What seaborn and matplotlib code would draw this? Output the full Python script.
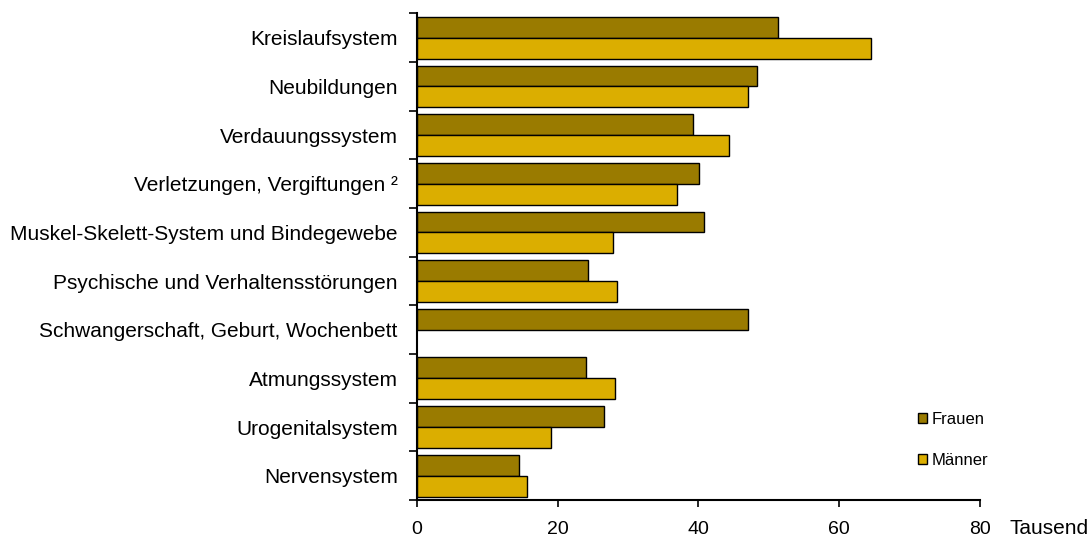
import matplotlib
matplotlib.use("Agg")
import matplotlib.pyplot as plt
from matplotlib.patches import Patch
import numpy as np
import pandas as pd
import seaborn as sns

categories = [
    "Kreislaufsystem",
    "Neubildungen",
    "Verdauungssystem",
    "Verletzungen, Vergiftungen ²",
    "Muskel-Skelett-System und Bindegewebe",
    "Psychische und Verhaltensstörungen",
    "Schwangerschaft, Geburt, Wochenbett",
    "Atmungssystem",
    "Urogenitalsystem",
    "Nervensystem",
]
frauen = [51.4, 48.4, 39.2, 40.1, 40.8, 24.3, 47.1, 24.0, 26.6, 14.5]
maenner = [64.6, 47.0, 44.3, 36.9, 27.8, 28.4, np.nan, 28.1, 19.0, 15.6]
series = ["Frauen", "Männer"]
colors = ["#9a7b00", "#dbae00"]
x_ticks = [0, 20, 40, 60, 80]

df = pd.DataFrame({
    "Kategorie": categories * 2,
    "Wert": frauen + maenner,
    "Geschlecht": [series[0]] * len(categories) + [series[1]] * len(categories),
})

sns.set_style("white")
plt.rcParams["font.family"] = ["Liberation Sans", "DejaVu Sans"]
plt.rcParams["text.color"] = "black"
plt.rcParams["xtick.color"] = "black"
plt.rcParams["ytick.color"] = "black"
plt.rcParams["xtick.bottom"] = True
plt.rcParams["ytick.left"] = True

fig = plt.figure(figsize=(10.92, 5.4), dpi=100)
ax = fig.add_axes([0.382, 0.074, 0.515, 0.901])

sns.barplot(
    data=df, y="Kategorie", x="Wert", hue="Geschlecht",
    order=categories, hue_order=series, palette=colors,
    orient="h", width=0.86, edgecolor="black", linewidth=1.0,
    saturation=1, errorbar=None, legend=False, ax=ax,
)

ax.set_xlim(0, 80)
ax.set_ylim(len(categories) - 0.5, -0.5)
ax.set_xticks(x_ticks)
ax.set_xticklabels([str(t) for t in x_ticks], fontsize=14)
ax.set_xlabel("")
ax.set_ylabel("")

# category labels at group centres, tick marks between groups
ax.set_yticks(range(len(categories)))
ax.set_yticklabels(categories, fontsize=15)
ax.tick_params(axis="y", which="major", left=False, length=0, pad=14)
ax.set_yticks(np.arange(-0.5, len(categories) + 0.5, 1), minor=True)
ax.tick_params(axis="y", which="minor", left=True, length=6, width=1.2,
               direction="out", color="black")
ax.tick_params(axis="x", which="major", bottom=True, length=5, width=1.2,
               direction="out", color="black", pad=10)

for side in ["top", "right"]:
    ax.spines[side].set_visible(False)
for side in ["left", "bottom"]:
    ax.spines[side].set_color("black")
    ax.spines[side].set_linewidth(1.5)

fig.text(0.961, 1 - 528 / 540, "Tausend", fontsize=15, ha="center", va="center")

handles = [Patch(facecolor=c, edgecolor="black", linewidth=1.0) for c in colors]
fig.legend(
    handles, series, loc="upper left", bbox_to_anchor=(918 / 1092, 1 - 412 / 540),
    frameon=False, fontsize=12, handlelength=0.55, handleheight=0.55,
    handletextpad=0.25, labelspacing=1.55, borderpad=0, borderaxespad=0,
)

fig.savefig("out.png", dpi=100)
